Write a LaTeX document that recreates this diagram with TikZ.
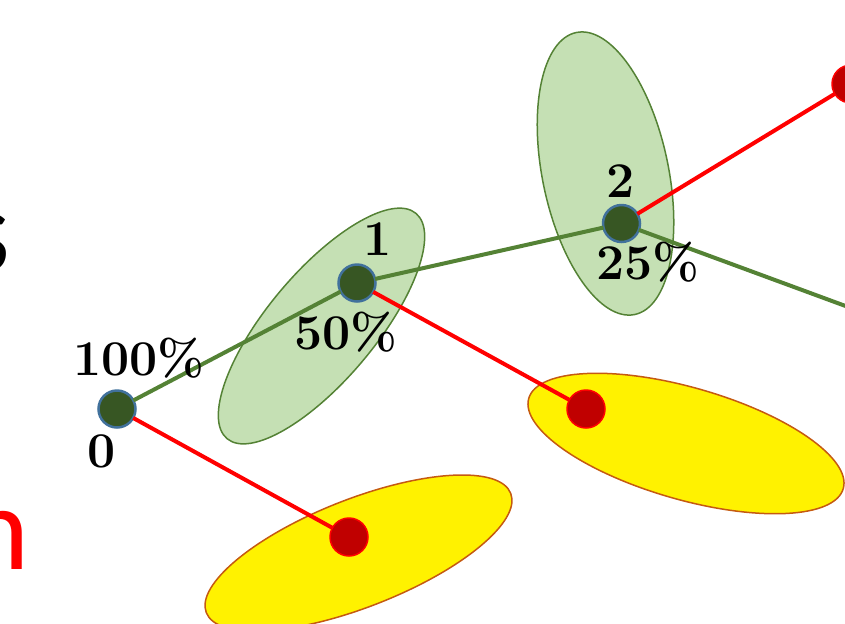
\documentclass[tikz,border=0pt]{standalone}
\usepackage{fontspec}
\newfontfamily\calfont{Carlito}
\usetikzlibrary{shapes.geometric}
\definecolor{gline}{HTML}{548235}
\definecolor{gfill}{HTML}{C5E0B4}
\definecolor{dnode}{HTML}{375623}
\definecolor{bnode}{HTML}{41719C}
\definecolor{rdot}{HTML}{C00000}
\definecolor{ybord}{HTML}{C55A11}
\begin{document}
\begin{tikzpicture}[x=0.5pt,y=-0.5pt,
 geli/.style={ellipse, draw=gline, fill=gfill, line width=0.75pt, inner sep=0pt, outer sep=0pt},
 yeli/.style={ellipse, draw=ybord, fill=yellow, line width=0.75pt, inner sep=0pt, outer sep=0pt},
 gedge/.style={draw=gline, line width=2pt},
 redge/.style={draw=red, line width=2pt},
 tnode/.style={circle, fill=dnode, draw=bnode, line width=1.25pt, minimum size=18.5pt, inner sep=0pt, outer sep=0pt},
 rnode/.style={circle, fill=rdot, draw=red, line width=0.75pt, minimum size=19pt, inner sep=0pt, outer sep=0pt},
 lbl/.style={font=\fontsize{25}{25}\selectfont\bfseries, inner sep=0pt, anchor=base},
 big/.style={font=\calfont\fontsize{60}{60}\selectfont, inner sep=0pt, anchor=base east}]
\useasboundingbox (0,0) rectangle (845,623);
\clip (0,0) rectangle (845,623);
% ellipses
\node[geli, minimum width=147pt, minimum height=54pt, rotate=50] (e1) at (321.5,326) {};
\node[geli, minimum width=144pt, minimum height=63pt, rotate=101.7] (e2) at (605.5,173.5) {};
\node[yeli, minimum width=163.5pt, minimum height=54pt, rotate=21.4] (y1) at (358.5,553) {};
\node[yeli, minimum width=163.6pt, minimum height=56pt, rotate=-16] (y2) at (686,443.5) {};
% nodes
\node[tnode] (n0) at (117,409) {};
\node[tnode] (n1) at (357,283) {};
\node[tnode] (n2) at (621.5,223.5) {};
\node[rnode] (r0) at (349,537) {};
\node[rnode] (r1) at (586,409) {};
\node[rnode] (r2) at (851,84) {};
\coordinate (gend) at (870,315);
% edges
\draw[gedge] (n0) -- (n1);
\draw[gedge] (n1) -- (n2);
\draw[gedge] (n2) -- (gend);
\draw[redge] (n0) -- (r0);
\draw[redge] (n1) -- (r1);
\draw[redge] (n2) -- (r2);
% labels
\node[lbl] (l100) at (139,375) {100\%};
\node[lbl] (l0) at (102,467) {0};
\node[lbl] (l1) at (378,255) {1};
\node[lbl] (l50) at (346,349) {50\%};
\node[lbl] (l2) at (621,197) {2};
\node[lbl] (l25) at (648,279) {25\%};
% cut-off text at the left edge
\node[big] (ts) at (11,271) {s};
\node[big, text=red] (tn) at (30,569) {n};
\end{tikzpicture}
\end{document}
